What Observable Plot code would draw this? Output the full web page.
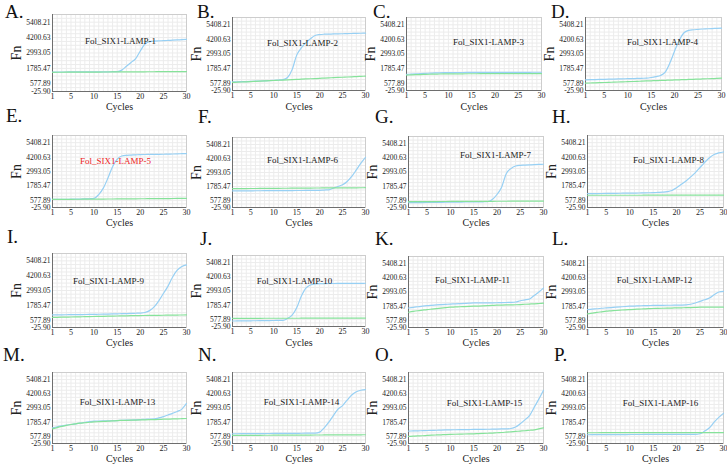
<!DOCTYPE html>
<html>
<head>
<meta charset="utf-8">
<script src="https://cdn.jsdelivr.net/npm/d3@7"></script>
<script src="https://cdn.jsdelivr.net/npm/@observablehq/plot@0.6"></script>
<style>
  body { margin: 0; background: #fff; }
  #root { position: relative; width: 727px; height: 465px; overflow: hidden; font-family: "Liberation Serif", "DejaVu Serif", serif; }
  .panel { position: absolute; }
  .letter { position: absolute; font-family: "Liberation Serif", "DejaVu Serif", serif; font-size: 19px; line-height: 19px; color: #111; }
</style>
</head>
<body>
<div id="root"></div>
<script>
// ---------- data ----------
const cycles = [1,2,3,4,5,6,7,8,9,10,11,12,13,14,15,16,17,18,19,20,21,22,23,24,25,26,27,28,29,30];
const xTicks = [1,5,10,15,20,25,30];
const yTicks = [5408.21, 4200.63, 2993.05, 1785.47, 577.89, -25.90];
const panelLetters = ["A.","B.","C.","D.","E.","F.","G.","H.","I.","J.","K.","L.","M.","N.","O.","P."];
const panelTitles = ["Fol_SIX1-LAMP-1","Fol_SIX1-LAMP-2","Fol_SIX1-LAMP-3","Fol_SIX1-LAMP-4",
  "Fol_SIX1-LAMP-5","Fol_SIX1-LAMP-6","Fol_SIX1-LAMP-7","Fol_SIX1-LAMP-8",
  "Fol_SIX1-LAMP-9","Fol_SIX1-LAMP-10","Fol_SIX1-LAMP-11","Fol_SIX1-LAMP-12",
  "Fol_SIX1-LAMP-13","Fol_SIX1-LAMP-14","Fol_SIX1-LAMP-15","Fol_SIX1-LAMP-16"];

const blueA = [1500,1500,1505,1505,1510,1510,1510,1515,1515,1515,1520,1520,1520,1525,1530,1650,1950,2250,2550,3150,3700,3880,3930,3950,3960,3980,4000,4020,4040,4060];
const greenA = [1480,1482,1484,1486,1488,1490,1492,1494,1496,1498,1500,1502,1504,1506,1508,1510,1512,1514,1516,1518,1520,1522,1524,1526,1528,1530,1532,1534,1536,1538];
const blueB = [680,690,700,715,730,745,760,775,795,815,840,870,1050,1700,2900,3500,3920,4250,4520,4600,4630,4640,4650,4660,4670,4680,4690,4700,4710,4720];
const greenB = [640,658,676,694,712,730,748,766,784,802,820,838,856,874,892,910,928,946,964,982,1000,1018,1036,1054,1072,1090,1108,1126,1144,1160];
const blueC = [1310,1330,1350,1370,1390,1410,1425,1440,1450,1455,1460,1462,1465,1467,1470,1470,1472,1472,1474,1475,1476,1477,1478,1479,1480,1480,1481,1482,1483,1485];
const greenC = [1250,1265,1280,1295,1310,1320,1330,1340,1345,1350,1352,1354,1356,1358,1360,1360,1362,1362,1364,1365,1366,1367,1368,1369,1370,1370,1371,1372,1373,1375];
const blueD = [860,870,880,890,900,910,920,930,940,950,960,970,985,1000,1050,1120,1220,1500,2260,3240,4130,4750,4950,5000,5030,5060,5080,5100,5120,5140];
const greenD = [580,594,608,622,636,650,664,678,692,706,720,734,748,762,776,790,804,818,832,846,860,874,888,902,916,930,944,958,972,990];
const blueE = [650,655,660,665,670,675,680,690,710,740,1060,1600,2450,3400,4020,4290,4350,4370,4390,4410,4420,4425,4430,4435,4440,4450,4460,4470,4485,4500];
const greenE = [650,653,656,659,662,665,668,671,674,677,680,683,686,689,692,695,698,701,704,707,710,713,716,719,722,725,728,731,735,740];
const blueF = [1400,1405,1410,1412,1415,1418,1420,1422,1425,1427,1430,1432,1435,1437,1440,1442,1445,1447,1450,1455,1480,1500,1640,1785,1930,2220,2650,3220,3800,4300];
const greenF = [1600,1603,1606,1609,1612,1615,1618,1621,1624,1627,1630,1633,1636,1639,1642,1645,1648,1651,1654,1657,1660,1662,1664,1666,1668,1670,1672,1674,1677,1680];
const blueG = [380,385,390,395,400,405,410,415,420,425,430,435,440,445,450,455,460,470,650,1080,1700,2850,3280,3500,3560,3580,3600,3620,3635,3650];
const greenG = [470,472,474,476,478,480,482,484,486,488,490,492,494,496,498,500,501,502,503,504,505,507,509,511,513,515,516,517,518,520];
const blueH = [1135,1140,1145,1150,1155,1160,1165,1170,1175,1180,1185,1190,1200,1210,1220,1240,1260,1300,1400,1640,1920,2200,2540,2900,3330,3760,4150,4420,4550,4630];
const greenH = [1000,1000,1000,1001,1001,1001,1002,1002,1002,1003,1003,1003,1004,1004,1004,1005,1005,1005,1006,1006,1006,1007,1007,1007,1008,1008,1008,1009,1009,1010];
const blueI = [1000,1005,1010,1015,1020,1025,1030,1035,1040,1050,1055,1060,1070,1080,1090,1100,1110,1120,1135,1150,1200,1350,1650,2150,2750,3350,4100,4650,4950,5080];
const greenI = [800,808,816,824,832,840,848,856,864,872,880,888,896,904,912,920,928,936,944,950,955,960,965,970,975,980,985,990,995,1000];
const blueJ = [440,445,450,455,460,465,470,475,480,485,490,500,660,940,1560,2540,3230,3510,3600,3620,3625,3630,3632,3635,3637,3640,3642,3645,3648,3650];
const greenJ = [670,671,671,672,672,673,673,674,674,675,675,676,676,677,677,678,678,679,679,680,681,682,683,684,685,686,687,688,689,690];
const blueK = [1630,1690,1740,1790,1830,1860,1890,1920,1945,1970,1990,2005,2020,2040,2060,2060,2065,2070,2075,2080,2090,2100,2110,2140,2250,2320,2400,2700,2990,3330];
const greenK = [1270,1340,1400,1450,1500,1540,1580,1620,1660,1700,1720,1740,1755,1770,1785,1800,1815,1830,1850,1870,1880,1890,1900,1910,1925,1950,1970,1990,2015,2040];
const blueL = [1500,1540,1570,1610,1640,1670,1700,1730,1760,1785,1800,1815,1830,1840,1850,1855,1860,1865,1868,1870,1880,1900,1950,2060,2200,2330,2480,2760,2990,3050];
const greenL = [1140,1200,1260,1310,1360,1390,1420,1450,1480,1500,1520,1540,1560,1575,1590,1600,1610,1620,1630,1640,1650,1660,1670,1685,1700,1700,1700,1700,1700,1700];
const blueM = [1310,1400,1470,1540,1590,1650,1710,1770,1830,1870,1880,1890,1900,1910,1925,1940,1955,1970,1990,2010,2030,2050,2070,2150,2260,2400,2540,2700,2900,3380];
const greenM = [1220,1330,1430,1520,1590,1650,1700,1740,1780,1810,1830,1850,1870,1890,1925,1935,1945,1955,1965,1980,1990,2000,2010,2020,2040,2050,2060,2070,2085,2100];
const blueN = [800,803,806,809,812,815,818,821,824,827,830,833,836,839,842,845,850,855,860,940,1310,1785,2350,2900,3200,3660,4100,4370,4500,4560];
const greenN = [660,662,664,666,668,670,672,674,676,678,680,682,684,686,688,690,692,694,696,698,700,702,704,706,708,710,712,714,716,720];
const blueO = [1030,1040,1050,1065,1080,1090,1100,1115,1125,1140,1145,1150,1155,1160,1170,1175,1180,1185,1190,1200,1210,1220,1250,1370,1650,1980,2350,3050,3750,4500];
const greenO = [578,595,615,635,660,680,700,715,735,750,760,770,780,790,800,815,830,845,860,890,910,940,970,1000,1030,1060,1100,1140,1220,1310];
const blueP = [720,722,724,726,728,730,732,734,736,738,740,741,742,743,744,745,746,747,748,749,750,750,750,750,800,1030,1310,1785,2200,2540];
const greenP = [890,890,890,891,891,891,892,892,892,893,893,893,894,894,894,895,895,895,896,896,896,897,897,897,898,898,898,899,899,900];

const blueSeries = [blueA,blueB,blueC,blueD,blueE,blueF,blueG,blueH,blueI,blueJ,blueK,blueL,blueM,blueN,blueO,blueP];
const greenSeries = [greenA,greenB,greenC,greenD,greenE,greenF,greenG,greenH,greenI,greenJ,greenK,greenL,greenM,greenN,greenO,greenP];

// ---------- layout (pixels) ----------
// frame [left, right, top, bottom]
const frames = [
  [52,186,14,91],[232,365,17,90],[406,541,17,90],[585,721,17,90],
  [52,186,135,207],[232,365,137,207],[408,543,136,207],[587,723,135,207],
  [52,186,253,327],[232,365,255,326],[408,543,256,327],[587,723,256,327],
  [52,186,372,443],[232,365,372,443],[408,543,372,443],[587,723,372,443]
];
const cyclesRowY = [106, 222, 342, 458];
const titleCenters = [
  [120,41],[302,43],[488,42],[662,42],
  [115,161],[302,160],[495,155],[668,160],
  [108,281],[294,281],[472,280],[654,280],
  [117,402],[301,402],[484,403],[660,403]
];
const letterPos = [
  [5,12],[197,12],[373,12],[551,12],
  [6,116],[198,117],[375,117],[552,117],
  [7,237],[200,239],[375,239],[552,239],
  [3,355],[198,355],[375,355],[554,355]
];

const BLUE = "#97d0f4";
const GREEN = "#86e29a";
const FONT = '"Liberation Serif", "DejaVu Serif", serif';
const yDomain = [-25.9, 6012.0];

const root = document.getElementById("root");
const ml = 50, mr = 2, mt = 2, mb = 24;

for (let i = 0; i < 16; i++) {
  const [x0, x1, y0, y1] = frames[i];
  const fw = x1 - x0, fh = y1 - y0;
  const blue = cycles.map((c, j) => ({cycle: c, fn: blueSeries[i][j]}));
  const green = cycles.map((c, j) => ({cycle: c, fn: greenSeries[i][j]}));
  const [tcx, tcy] = titleCenters[i];
  const cy = cyclesRowY[Math.floor(i / 4)];
  const chart = Plot.plot({
    width: fw + ml + mr,
    height: fh + mt + mb,
    marginLeft: ml, marginRight: mr, marginTop: mt, marginBottom: mb,
    style: {fontFamily: FONT, fontSize: "8px", background: "transparent", overflow: "visible", color: "#222"},
    x: {domain: [1, 30]},
    y: {domain: yDomain},
    marks: [
      Plot.gridX(d3.range(1, 31), {stroke: "#ececec", strokeOpacity: 1}),
      Plot.gridY(d3.range(-25.9, 6012, 301.9), {stroke: "#ececec", strokeOpacity: 1}),
      Plot.frame({stroke: "#cdcdcd"}),
      Plot.ruleX([1], {stroke: "#555", strokeWidth: 0.8}),
      Plot.ruleY([-25.9], {stroke: "#555", strokeWidth: 0.8}),
      Plot.axisX(xTicks, {tickSize: 0, tickPadding: 2, label: null, fontSize: 8, fontFamily: FONT}),
      Plot.axisY(yTicks, {tickSize: 0, tickPadding: 2, label: null, fontSize: 7.5, fontFamily: FONT, tickFormat: d => d.toFixed(2)}),
      Plot.line(blue, {x: "cycle", y: "fn", stroke: BLUE, strokeWidth: 1.2, curve: "monotone-x"}),
      Plot.line(green, {x: "cycle", y: "fn", stroke: GREEN, strokeWidth: 1.2, curve: "monotone-x"}),
      Plot.text([panelTitles[i]], {frameAnchor: "top-left", dx: tcx - x0, dy: tcy - y0, textAnchor: "middle", lineAnchor: "middle", fontSize: 9, fontFamily: FONT, fill: i === 4 ? "#ee1c25" : "#222"}),
      Plot.text(["Cycles"], {frameAnchor: "bottom", dy: cy - y1, lineAnchor: "middle", fontSize: 10, fontFamily: FONT, fill: "#222"}),
      Plot.text(["Fn"], {frameAnchor: "left", dx: -36, rotate: -90, textAnchor: "middle", lineAnchor: "middle", fontSize: 14, fontFamily: FONT, fill: "#222"})
    ]
  });
  chart.classList.add("panel");
  chart.style.left = (x0 - ml) + "px";
  chart.style.top = (y0 - mt) + "px";
  root.appendChild(chart);

  const lab = document.createElement("div");
  lab.className = "letter";
  lab.textContent = panelLetters[i];
  lab.style.left = letterPos[i][0] + "px";
  lab.style.top = (letterPos[i][1] - 10) + "px";
  root.appendChild(lab);
}
</script>
</body>
</html>
